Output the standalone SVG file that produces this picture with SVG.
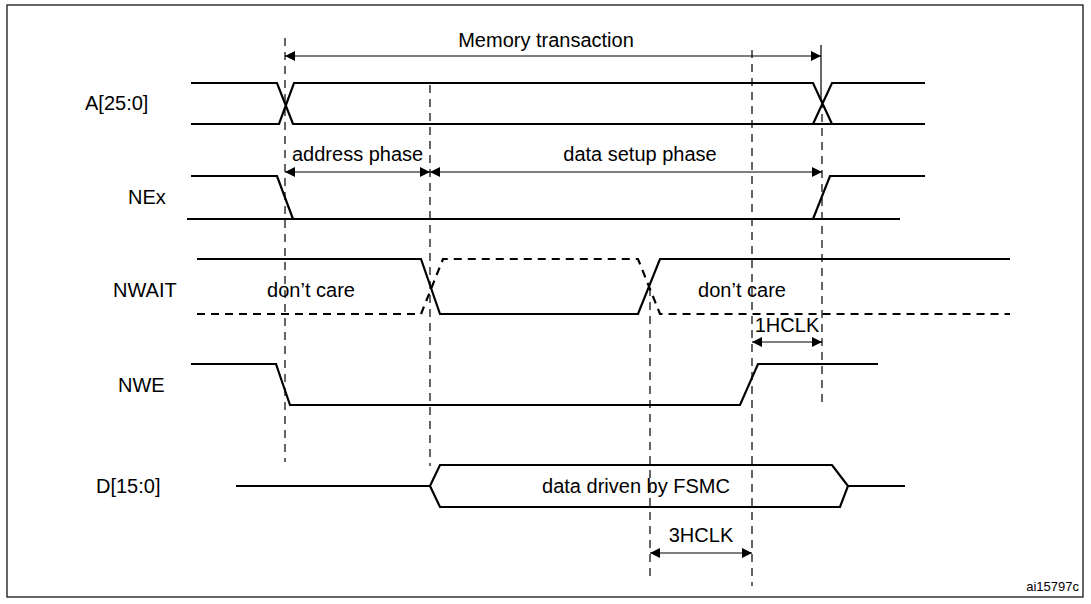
<svg xmlns="http://www.w3.org/2000/svg" width="1091" height="604" viewBox="0 0 1091 604">
<style>
.s{fill:none;stroke:#000;stroke-width:2.2}
.d{fill:none;stroke:#000;stroke-width:2.2;stroke-dasharray:8,6}
.v{fill:none;stroke:#000;stroke-width:1.2;stroke-dasharray:8,6}
.a{fill:none;stroke:#000;stroke-width:1.2;marker-start:url(#ah);marker-end:url(#ah)}
text{font-family:"Liberation Sans",Arial,sans-serif;font-size:20px;fill:#000}
</style>
<defs>
<marker id="ah" viewBox="0 0 10 10" refX="10" refY="5" markerWidth="14" markerHeight="10" markerUnits="userSpaceOnUse" orient="auto-start-reverse"><path d="M0,0L10,5L0,10z" fill="#000"/></marker>
</defs>
<rect x="7" y="5" width="1076" height="592" fill="#fff" stroke="#000" stroke-width="1.2"/>
<g id="guides">
<line class="v" x1="285" y1="38" x2="285" y2="462"/>
<line class="v" x1="430" y1="85" x2="430" y2="466"/>
<line class="v" x1="650" y1="288" x2="650" y2="582"/>
<line class="v" x1="752" y1="50" x2="752" y2="586"/>
<line stroke="#000" stroke-width="1.2" x1="821" y1="45" x2="821" y2="100"/>
<line class="v" x1="822" y1="100" x2="822" y2="405"/>
</g>
<g id="connectors">
<line class="a" x1="285" y1="56" x2="821" y2="56"/>
<line class="a" x1="285" y1="172" x2="430" y2="172"/>
<line class="a" x1="430" y1="172" x2="822" y2="172"/>
<line class="a" x1="752" y1="342" x2="822" y2="342"/>
<line class="a" x1="650" y1="553" x2="752" y2="553"/>
</g>
<g id="A"><text x="85" y="110">A[25:0]</text>
<path class="s" d="M191,83H277L293,124H925M191,124H279L294,83H813L832,124M813,124L832,83H925"/></g>
<g id="NEx"><text x="128" y="204">NEx</text>
<path class="s" d="M191,176H277L293,219M187,219H900M813,219L830,176H925"/></g>
<g id="NWAIT"><text x="113" y="297">NWAIT</text>
<path class="s" d="M197,259H421L440,314H638L660,259H1010"/>
<path class="d" d="M197,314H421L443,259H638L660,314H1010"/></g>
<g id="NWE"><text x="118" y="392">NWE</text>
<path class="s" d="M191,364H276L290,405H740L758,364H878"/></g>
<g id="D"><text x="96" y="493">D[15:0]</text>
<path class="s" d="M236,486H430L440,465H832L848,486L840,507H440L430,486M848,486H905"/></g>
<g id="labels">
<text x="546" y="47" text-anchor="middle">Memory transaction</text>
<text x="292" y="161">address phase</text>
<text x="640" y="161" text-anchor="middle">data setup phase</text>
<text x="311" y="297" text-anchor="middle">don’t care</text>
<text x="742" y="297" text-anchor="middle">don’t care</text>
<text x="787" y="332" text-anchor="middle">1HCLK</text>
<text x="636" y="493" text-anchor="middle">data driven by FSMC</text>
<text x="701" y="542" text-anchor="middle">3HCLK</text>
<text x="1079" y="591" text-anchor="end" style="font-size:13px">ai15797c</text>
</g>
</svg>
